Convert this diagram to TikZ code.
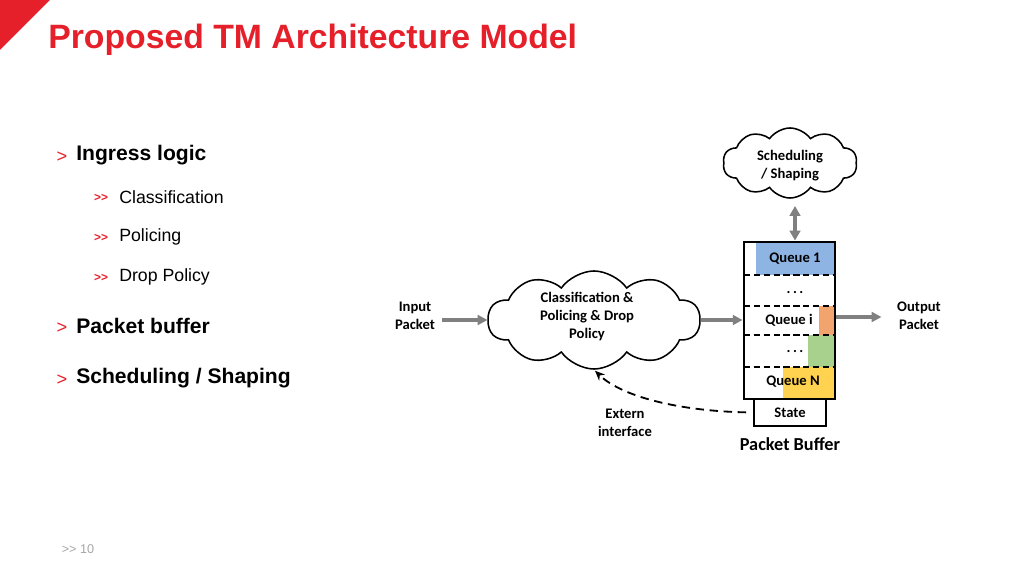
\documentclass[tikz,border=0pt]{standalone}
\usepackage{fontspec}
\setmainfont{Liberation Sans}
\newfontfamily\carlito{Carlito}
\usetikzlibrary{shapes.symbols,arrows.meta,positioning}
\definecolor{tmred}{HTML}{E5202A}
\definecolor{tmgray}{HTML}{808080}
\definecolor{qblue}{HTML}{8EB4E3}
\definecolor{qorange}{HTML}{F2A46E}
\definecolor{qgreen}{HTML}{A9D18E}
\definecolor{qyellow}{HTML}{FFD34F}
\newcommand{\diag}{\carlito\bfseries\fontsize{10.4}{12.8}\selectfont}

\begin{document}
\begin{tikzpicture}[
    x=0.025cm, y=-0.025cm,
    cloudbox/.style = {cloud, cloud puffs=10, cloud puff arc=110, cloud ignores aspect,
                       draw, line width=1.1pt, fill=white, inner sep=0pt},
    lbl/.style      = {font=\diag, align=center, inner sep=1pt},
    flow/.style     = {-{Triangle[length=7pt,width=7pt]}, line width=2.2pt, tmgray},
    dflow/.style    = {{Triangle[length=7pt,width=7.5pt]}-{Triangle[length=7pt,width=7.5pt]},
                       line width=2.2pt, tmgray},
    qline/.style    = {line width=1.6pt, dash pattern=on 4.5pt off 2.5pt},
    ext/.style      = {-{Stealth[length=7pt,width=6pt]}, line width=1.3pt,
                       dash pattern=on 6pt off 4pt},
    head/.style     = {anchor=west, inner sep=0pt, font=\bfseries\fontsize{15}{18}\selectfont},
    sub/.style      = {anchor=west, inner sep=0pt, font=\fontsize{12.6}{15}\selectfont},
    mark1/.style    = {inner sep=0pt, text=tmred, font=\fontsize{13}{15}\selectfont},
    mark2/.style    = {inner sep=0pt, text=tmred, font=\bfseries\fontsize{8.5}{10}\selectfont},
]
  \useasboundingbox (0,0) rectangle (1024,576);

  % Title
  \fill[tmred] (0,0) -- (50,0) -- (0,50) -- cycle;
  \node[anchor=west, inner sep=0pt, text=tmred,
        font=\bfseries\fontsize{24}{28}\selectfont] (title) at (48,40)
        {Proposed TM Architecture Model};

  % Bullets
  \node[head] (ingress) at (76,155) {Ingress logic};
  \node[mark1] at (62,157) {>};
  \foreach \t/\y in {Classification/197, Policing/237, Drop Policy/277} {
    \node[sub] at (119,\y) {\t};
    \node[mark2] at (101,\y+1) {{>}{>}};
  }
  \node[head] (pbuf) at (76,326) {Packet buffer};
  \node[mark1] at (62,328) {>};
  \node[head] (sched) at (76,378) {Scheduling / Shaping};
  \node[mark1] at (62,380) {>};

  \node[inner sep=0pt, text=gray!70, font=\fontsize{9}{10}\selectfont] (page) at (78,549) {{>}{>} 10};

  % Ingress logic
  \node[lbl] (inp) at (415,316) {Input\\Packet};
  \node[cloudbox, minimum width=5.3cm, minimum height=2.45cm] (cls) at (594,320) {};
  \node[lbl] (clstxt) at (587,317) {Classification \&\\Policing \& Drop\\Policy};

  % Packet buffer
  \fill[qblue]   (756,242) rectangle (835,275);
  \fill[qorange] (819,306) rectangle (835,335);
  \fill[qgreen]  (808,335) rectangle (835,367);
  \fill[qyellow] (783,367) rectangle (835,399);
  \foreach \y in {275,306,335,367}
    \draw[qline] (744,\y) -- (835,\y);
  \node[draw, line width=2pt, minimum width=2.275cm, minimum height=3.925cm,
        inner sep=0pt] (buf) at (789.5,320.5) {};

  \node[lbl] (q1) at (795,259) {Queue 1};
  \node[lbl] (dots1) at (795,293) {.\,.\,.};
  \node[lbl] (qi) at (789,320) {Queue i};
  \node[lbl] (dots2) at (795,352) {.\,.\,.};
  \node[lbl] (qn) at (793,382) {Queue N};

  \node[draw, line width=1.3pt, minimum width=1.8cm, minimum height=0.675cm, lbl]
      (state) at (790,412.5) {State};
  \node[font=\carlito\bfseries\fontsize{13}{15}\selectfont] (pbl) at (790,444) {Packet Buffer};

  \node[lbl] (outp) at (919,316) {Output\\Packet};
  \node[lbl] (ext) at (625,423) {Extern\\interface};

  % Scheduling
  \node[cloudbox, minimum width=3.35cm, minimum height=1.75cm] (sch) at (790,163) {};
  \node[lbl] (schtxt) at (790,166) {Scheduling\\/ Shaping};
  \coordinate (schb) at (795,206);

  % Connectors
  \draw[flow, shorten <=4pt] (inp.east |- 0,320) -- (cls.west |- 0,320);
  \draw[flow] (cls.east |- 0,320) -- (buf.west |- 0,320);
  \draw[flow, shorten >=10pt] (buf.east |- 0,317) -- (outp.west |- 0,317);
  \draw[dflow] (schb) -- (schb |- buf.north);
  \draw[ext, shorten <=5pt, shorten >=1pt] (state.west)
      .. controls (680,411) and (622,397) .. (cls.south);

\end{tikzpicture}
\end{document}
